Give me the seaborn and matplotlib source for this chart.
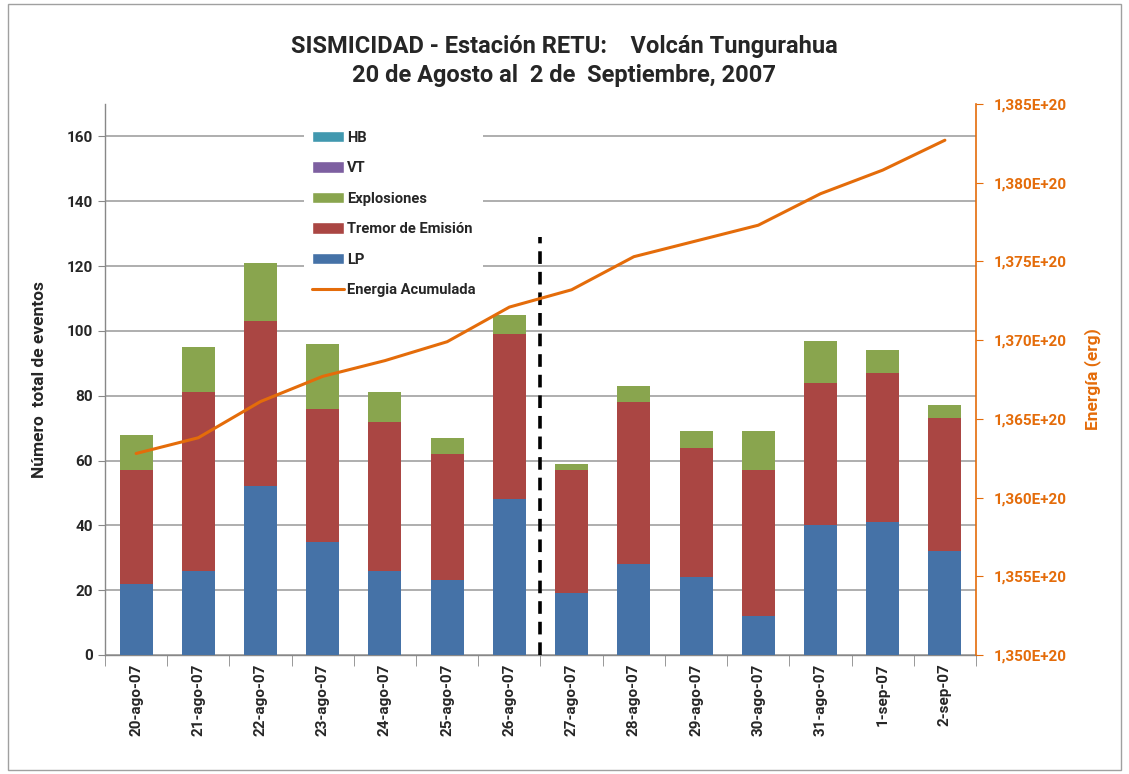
import numpy as np
import pandas as pd
import matplotlib
matplotlib.use("Agg")
import matplotlib.pyplot as plt
from matplotlib.patches import Patch, Rectangle
from matplotlib.lines import Line2D
from matplotlib.ticker import FixedLocator, FuncFormatter
import seaborn as sns

# ---------------- data ----------------
dates = ["20-ago-07", "21-ago-07", "22-ago-07", "23-ago-07", "24-ago-07", "25-ago-07",
         "26-ago-07", "27-ago-07", "28-ago-07", "29-ago-07", "30-ago-07", "31-ago-07",
         "1-sep-07", "2-sep-07"]
lp = [22, 26, 52, 35, 26, 23, 48, 19, 28, 24, 12, 40, 41, 32]
tremor = [35, 55, 51, 41, 46, 39, 51, 38, 50, 40, 45, 44, 46, 41]
explosiones = [11, 14, 18, 20, 9, 5, 6, 2, 5, 5, 12, 13, 7, 4]
vt = [0] * 14
hb = [0] * 14
energia_e20 = [1.3628, 1.3638, 1.3661, 1.3677, 1.3687, 1.3699, 1.3721,
               1.3732, 1.3753, 1.3763, 1.3773, 1.3793, 1.3808, 1.3827]
divider_after = "26-ago-07"
divider_top = 129

title = "SISMICIDAD - Estación RETU:    Volcán Tungurahua\n20 de Agosto al  2 de  Septiembre, 2007"
ylabel_left = "Número  total de eventos"
ylabel_right = "Energía (erg)"

# ---------------- style ----------------
C_LP = "#4572A7"
C_TR = "#AA4643"
C_EX = "#89A54E"
C_VT = "#7D5FA0"
C_HB = "#4198AF"
C_EN = "#E46C0A"

sns.set_style("white")
plt.rcParams["font.family"] = ["Roboto", "DejaVu Sans"]
plt.rcParams["font.weight"] = "bold"

df = pd.DataFrame({"fecha": dates, "LP": lp, "Tremor": tremor, "Expl": explosiones,
                   "VT": vt, "HB": hb})
df["pos"] = np.arange(len(df))
df["c_lp"] = df["LP"]
df["c_tr"] = df["c_lp"] + df["Tremor"]
df["c_ex"] = df["c_tr"] + df["Expl"]
df["c_vt"] = df["c_ex"] + df["VT"]
df["c_hb"] = df["c_vt"] + df["HB"]
df["energia"] = np.array(energia_e20) * 1e20

fig = plt.figure(figsize=(11.29, 7.74), dpi=100)
ax = fig.add_axes([105 / 1129, 1 - 655 / 774, 871 / 1129, 551 / 774])

bw = 0.53
for col, c in [("c_hb", C_HB), ("c_vt", C_VT), ("c_ex", C_EX), ("c_tr", C_TR), ("c_lp", C_LP)]:
    sns.barplot(data=df, x="fecha", y=col, order=dates, color=c, width=bw,
                errorbar=None, saturation=1, ax=ax, zorder=3, linewidth=0)

ax.set_xlim(-0.5, len(dates) - 0.5)
ax.set_ylim(0, 170)
ax.yaxis.set_major_locator(FixedLocator(np.arange(0, 161, 20)))
ax.grid(axis="y", color="#999999", linewidth=1.1, zorder=0)
ax.set_axisbelow(True)
ax.set_xlabel("")
ax.set_ylabel(ylabel_left, fontsize=12.5, fontweight="bold", labelpad=14)
ax.tick_params(axis="y", labelsize=11, length=5, color="#888888", direction="out", left=True)
ax.tick_params(axis="x", labelsize=11, length=0, rotation=90, pad=6)
for t in ax.get_xticklabels() + ax.get_yticklabels():
    t.set_fontweight("bold")
ax.set_xticks(np.arange(-0.5, len(dates), 1.0), minor=True)
ax.tick_params(axis="x", which="minor", length=8, color="#888888", direction="out", bottom=True)
for s in ["top", "right"]:
    ax.spines[s].set_visible(False)
for s in ["left", "bottom"]:
    ax.spines[s].set_color("#888888")
    ax.spines[s].set_linewidth(1.0)

# divider line
xd = dates.index(divider_after) + 0.5
ax.vlines(xd, 0, divider_top, colors="black", linestyles=(0, (3.5, 2.2)), linewidth=2.6, zorder=5)

# energy on right axis
ax2 = ax.twinx()
sns.lineplot(data=df, x="pos", y="energia", color=C_EN, linewidth=2.2, ax=ax2, zorder=4)
ax2.set_ylim(1.350e20, 1.385e20)
ax2.yaxis.set_major_locator(FixedLocator(np.arange(1.350, 1.3851, 0.005) * 1e20))
ax2.yaxis.set_major_formatter(FuncFormatter(lambda v, p: f"{v / 1e20:.3f}".replace(".", ",") + "E+20"))
ax2.set_xlabel("")
ax2.set_ylabel(ylabel_right, color=C_EN, fontsize=12.5, fontweight="bold", labelpad=12)
ax2.tick_params(axis="y", labelsize=11, colors=C_EN, length=5, direction="out", pad=8)
for t in ax2.get_yticklabels():
    t.set_fontweight("bold")
for s in ["top", "left", "bottom"]:
    ax2.spines[s].set_visible(False)
ax2.spines["right"].set_color(C_EN)
ax2.spines["right"].set_linewidth(1.2)
ax2.set_xlim(-0.5, len(dates) - 0.5)

# legend
handles = [Patch(facecolor=C_HB, label="HB"),
           Patch(facecolor=C_VT, label="VT"),
           Patch(facecolor=C_EX, label="Explosiones"),
           Patch(facecolor=C_TR, label="Tremor de Emisión"),
           Patch(facecolor=C_LP, label="LP"),
           Line2D([0], [0], color=C_EN, linewidth=2.2, label="Energia Acumulada")]
leg = ax.legend(handles=handles, loc="upper left", bbox_to_anchor=(192 / 871, 1 - 12 / 551),
                frameon=True, facecolor="white", edgecolor="none", framealpha=1,
                fontsize=10.6, labelspacing=1.12, handlelength=2.2, handleheight=0.8,
                handletextpad=0.2, borderpad=0.5)
for t in leg.get_texts():
    t.set_fontweight("bold")
leg.set_zorder(6)

fig.suptitle(title, y=0.955, fontsize=17, fontweight="bold", linespacing=1.35)

fig.patches.append(Rectangle((8 / 1129, 4 / 774), 1 - 16 / 1129, 1 - 8 / 774,
                             transform=fig.transFigure, fill=False, edgecolor="#A0A0A0",
                             linewidth=1.0))

fig.savefig("out.png", dpi=100)
